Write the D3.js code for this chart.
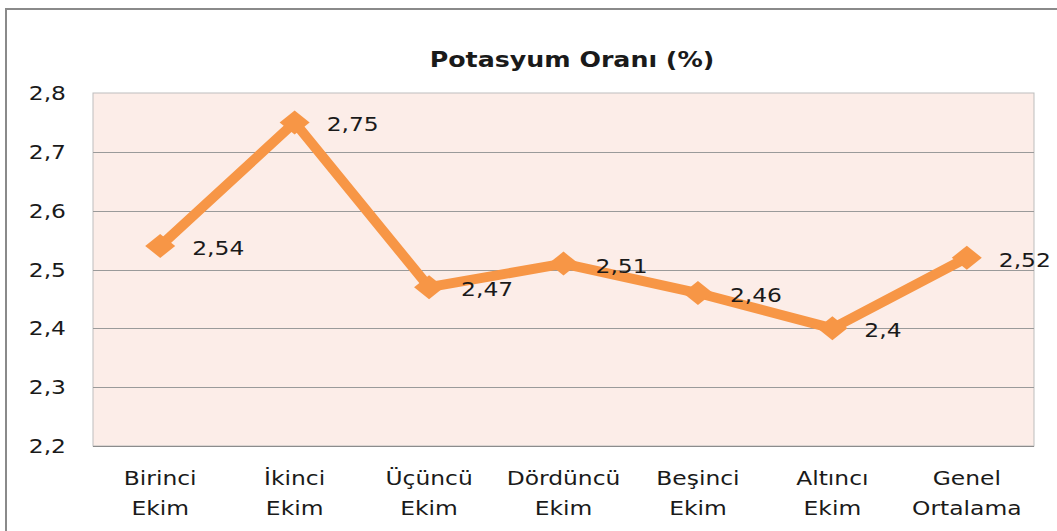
<!DOCTYPE html>
<html>
<head>
<meta charset="utf-8">
<script src="https://cdn.jsdelivr.net/npm/d3@7"></script>
<style>
  body { margin: 0; background: #fff; }
  text { font-family: "DejaVu Sans", sans-serif; fill: #1a1a1a; }
</style>
</head>
<body>
<svg id="chart"></svg>
<script>
// data
const categories = [
  ["Birinci", "Ekim"],
  ["İkinci", "Ekim"],
  ["Üçüncü", "Ekim"],
  ["Dördüncü", "Ekim"],
  ["Beşinci", "Ekim"],
  ["Altıncı", "Ekim"],
  ["Genel", "Ortalama"]
];
const values = [2.54, 2.75, 2.47, 2.51, 2.46, 2.4, 2.52];
const valueLabels = ["2,54", "2,75", "2,47", "2,51", "2,46", "2,4", "2,52"];
const yTicks = [2.2, 2.3, 2.4, 2.5, 2.6, 2.7, 2.8];
const title = "Potasyum Oranı (%)";

const width = 1057, height = 531;
const svg = d3.select("#chart").attr("width", width).attr("height", height);
const sx = 1.17; // text in the original is stretched sideways

// outer frame
svg.append("path")
  .attr("d", `M6,${height} V9 H${width}`)
  .attr("fill", "none")
  .attr("stroke", "#8a8a8a")
  .attr("stroke-width", 2);

const plot = { left: 93, right: 1034, top: 93, bottom: 446 };

const x = d3.scaleBand()
  .domain(d3.range(categories.length))
  .range([plot.left, plot.right]);

const y = d3.scaleLinear()
  .domain([2.2, 2.8])
  .range([plot.bottom, plot.top]);

// plot background
svg.append("rect")
  .attr("x", plot.left).attr("y", plot.top)
  .attr("width", plot.right - plot.left)
  .attr("height", plot.bottom - plot.top)
  .attr("fill", "#fcede8")
  .attr("stroke", "#bdbdbd")
  .attr("stroke-width", 1);

// grid lines
svg.append("g")
  .selectAll("line")
  .data(yTicks.slice(1, -1))
  .enter().append("line")
  .attr("x1", plot.left).attr("x2", plot.right)
  .attr("y1", d => Math.round(y(d)) + 0.5)
  .attr("y2", d => Math.round(y(d)) + 0.5)
  .attr("stroke", "#9a9a9a");

svg.append("line")
  .attr("x1", plot.left).attr("x2", plot.right)
  .attr("y1", plot.bottom + 0.5).attr("y2", plot.bottom + 0.5)
  .attr("stroke", "#8c8c8c");

// y axis labels
svg.append("g")
  .selectAll("text")
  .data(yTicks)
  .enter().append("text")
  .attr("transform", d => `translate(66,${y(d) + 7}) scale(${sx},1)`)
  .attr("text-anchor", "end")
  .attr("font-size", 20)
  .text(d => d3.format(".1f")(d).replace(".", ","));

// x axis labels
const xl = svg.append("g")
  .selectAll("g")
  .data(categories)
  .enter().append("g")
  .attr("transform", (d, i) => `translate(${x(i) + x.bandwidth() / 2},0)`);

xl.append("text")
  .attr("transform", `translate(0,485) scale(${sx},1)`)
  .attr("text-anchor", "middle")
  .attr("font-size", 20)
  .text(d => d[0]);

xl.append("text")
  .attr("transform", `translate(0,515) scale(${sx},1)`)
  .attr("text-anchor", "middle")
  .attr("font-size", 20)
  .text(d => d[1]);

// title
svg.append("text")
  .attr("transform", `translate(572,67) scale(1.15,1)`)
  .attr("text-anchor", "middle")
  .attr("font-size", 22)
  .attr("font-weight", "bold")
  .text(title);

// line
const cx = i => x(i) + x.bandwidth() / 2;

const line = d3.line()
  .x((d, i) => cx(i))
  .y(d => y(d));

svg.append("path")
  .datum(values)
  .attr("d", line)
  .attr("fill", "none")
  .attr("stroke", "#f79646")
  .attr("stroke-width", 10)
  .attr("stroke-linejoin", "round");

// diamond markers
svg.append("g")
  .selectAll("path")
  .data(values)
  .enter().append("path")
  .attr("d", (d, i) => {
    const px = cx(i), py = y(d);
    return `M${px - 15},${py} L${px},${py - 12} L${px + 15},${py} L${px},${py + 12} Z`;
  })
  .attr("fill", "#f79646");

// value labels
svg.append("g")
  .selectAll("text")
  .data(values)
  .enter().append("text")
  .attr("transform", (d, i) => `translate(${cx(i) + 32},${y(d) + 9}) scale(${sx},1)`)
  .attr("font-size", 20)
  .text((d, i) => valueLabels[i]);
</script>
</body>
</html>
